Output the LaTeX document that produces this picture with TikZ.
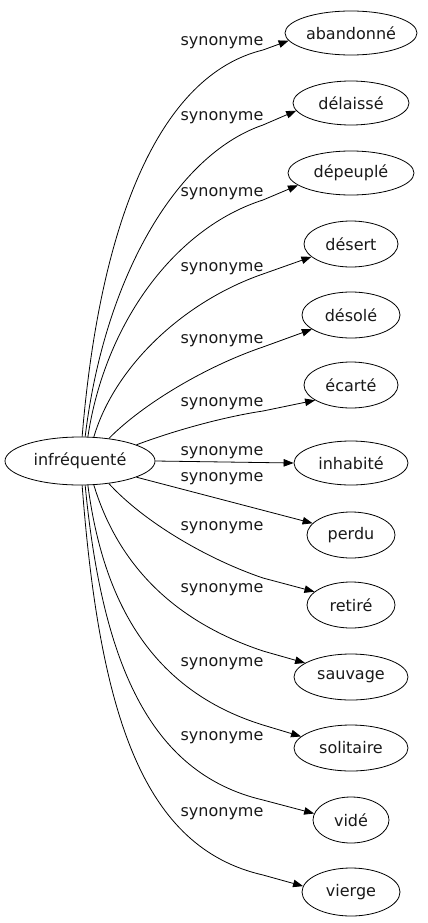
\documentclass[tikz,border=0pt]{standalone}
\usepackage{fontspec}
\setmainfont{DejaVu Sans}
\usetikzlibrary{shapes.geometric,arrows.meta}
\begin{document}
\begin{tikzpicture}[x=1pt,y=-1pt,
  word/.style={ellipse,draw,line width=0.8pt,inner sep=0pt,font=\fontsize{16}{19}\selectfont,text=black!90},
  lab/.style={inner sep=0pt,font=\fontsize{16}{19}\selectfont,text=black!90},
  syn/.style={line width=0.8pt,-{Triangle[length=10pt,width=7.5pt]}}]
\useasboundingbox (0,0) rectangle (428,923);
\node[word,minimum width=150pt,minimum height=48pt] (inf) at (80,461) {infréquenté};
\node[word,minimum width=132pt,minimum height=44pt] (n1) at (351,33) {abandonné};
\node[word,minimum width=116pt,minimum height=44pt] (n2) at (351,103) {délaissé};
\node[word,minimum width=126pt,minimum height=44pt] (n3) at (351,173) {dépeuplé};
\node[word,minimum width=94pt,minimum height=46pt] (n4) at (351,244) {désert};
\node[word,minimum width=98pt,minimum height=46pt] (n5) at (351,315) {désolé};
\node[word,minimum width=94pt,minimum height=46pt] (n6) at (351,385) {écarté};
\node[word,minimum width=114pt,minimum height=44pt] (n7) at (351,463) {inhabité};
\node[word,minimum width=88pt,minimum height=46pt] (n8) at (351,535) {perdu};
\node[word,minimum width=88pt,minimum height=46pt] (n9) at (351,605) {retiré};
\node[word,minimum width=114pt,minimum height=46pt] (n10) at (351,677) {sauvage};
\node[word,minimum width=114pt,minimum height=46pt] (n11) at (351,748) {solitaire};
\node[word,minimum width=76pt,minimum height=46pt] (n12) at (351,820) {vidé};
\node[word,minimum width=98pt,minimum height=48pt] (n13) at (351,892) {vierge};

\draw[syn] (inf.85) .. controls (100,220) and (160,75) .. (263,50) -- (n1.187);
\draw[syn] (inf.78) .. controls (104,280) and (175,155) .. (263,125) -- (n2.188);
\draw[syn] (inf.72) .. controls (105,323) and (175,228) .. (263,200) -- (n3.193);
\draw[syn] (inf.60) .. controls (114,368) and (182,302) .. (263,274) -- (n4.198);
\draw[syn] (inf.38) .. controls (144,403) and (207,366) .. (263,347) -- (n5.200);
\draw[syn] (inf.16) .. controls (173,431) and (223,417) .. (263,411) -- (n6.203);
\draw[syn] (inf.east) -- (n7.west);
\draw[syn] (inf.-16) -- (n8.163);
\draw[syn] (inf.-38) .. controls (144,522) and (207,559) .. (263,578) -- (n9.160);
\draw[syn] (inf.-60) .. controls (112,545) and (155,615) .. (263,651) -- (n10.163);
\draw[syn] (inf.-72) .. controls (103,600) and (150,690) .. (263,725) -- (n11.167);
\draw[syn] (inf.-78) .. controls (102,660) and (148,773) .. (263,800) -- (n12.170);
\draw[syn] (inf.-85) .. controls (100,720) and (145,848) .. (263,875) -- (n13.173);

\node[lab] (l1) at (222,43) {synonyme};
\node[lab] (l2) at (222,118) {synonyme};
\node[lab] (l3) at (222,194) {synonyme};
\node[lab] (l4) at (222,269) {synonyme};
\node[lab] (l5) at (222,341) {synonyme};
\node[lab] (l6) at (222,404) {synonyme};
\node[lab] (l7) at (222,453) {synonyme};
\node[lab] (l8) at (222,479) {synonyme};
\node[lab] (l9) at (222,528) {synonyme};
\node[lab] (l10) at (222,590) {synonyme};
\node[lab] (l11) at (222,664) {synonyme};
\node[lab] (l12) at (222,738) {synonyme};
\node[lab] (l13) at (222,814) {synonyme};
\end{tikzpicture}
\end{document}
